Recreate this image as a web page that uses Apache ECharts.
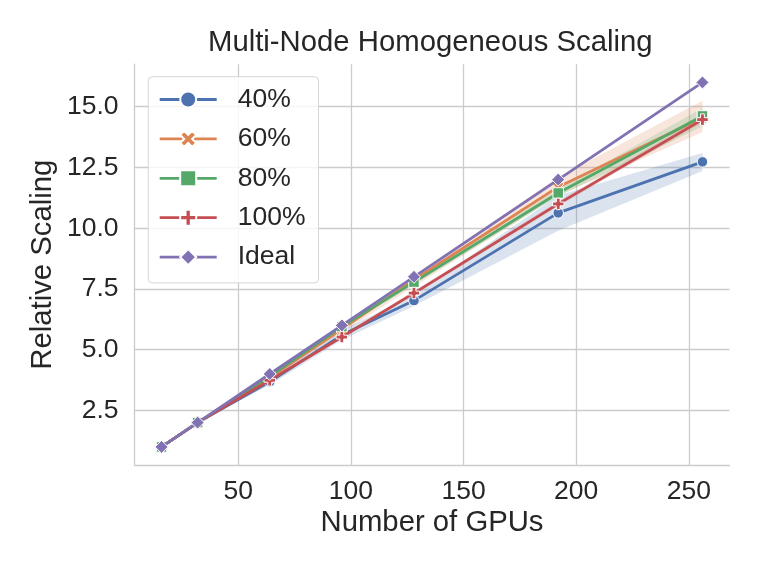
<!DOCTYPE html>
<html>
<head>
    <meta charset="utf-8">
    <title>Multi-Node Homogeneous Scaling</title>
    <script src="https://cdn.jsdelivr.net/npm/echarts@6/dist/echarts.min.js"></script>
    <style>
        html, body { margin: 0; padding: 0; background: #fff; }
    </style>
</head>
<body>
<div id="main" style="width: 761px;height:571px;"></div>
<script>
    // x values
    var gpus = [16, 32, 64, 96, 128, 192, 256];

    // mean relative scaling per run
    var s40 = [1, 2, 3.68, 5.6, 7.02, 10.63, 12.73];
    var s60 = [1, 2, 3.85, 5.85, 7.88, 11.7, 14.55];
    var s80 = [1, 2, 3.9, 5.95, 7.78, 11.45, 14.62];
    var s100 = [1, 2, 3.74, 5.52, 7.33, 11.0, 14.47];
    var ideal = [1, 2, 4, 6, 8, 12, 16];

    // confidence bands (lower / upper)
    var lo40 = [1, 2, 3.55, 5.4, 6.8, 9.9, 12.35];
    var hi40 = [1, 2, 3.82, 5.8, 7.25, 11.35, 13.1];
    var lo60 = [1, 2, 3.75, 5.7, 7.6, 11.35, 13.95];
    var hi60 = [1, 2, 3.95, 6.0, 8.05, 12.1, 15.25];
    var lo80 = [1, 2, 3.82, 5.85, 7.68, 11.3, 14.2];
    var hi80 = [1, 2, 3.97, 6.02, 7.9, 11.6, 14.95];
    var lo100 = [1, 2, 3.7, 5.45, 7.25, 10.9, 14.35];
    var hi100 = [1, 2, 3.8, 5.6, 7.42, 11.1, 14.6];

    var names = ['40%', '60%', '80%', '100%', 'Ideal'];
    var colors = ['#4C72B0', '#DD8452', '#55A868', '#C44E52', '#8172B3'];

    var FONT = 'Liberation Sans, Arial, sans-serif';
    var TXT = '#262626';
    var GRID_C = '#cccccc';

    var xMarker = 'path://M2,-4L4,-2L2,0L4,2L2,4L0,2L-2,4L-4,2L-2,0L-4,-2L-2,-4L0,-2Z';
    var plusMarker = 'path://M-1,-3L1,-3L1,-1L3,-1L3,1L1,1L1,3L-1,3L-1,1L-3,1L-3,-1L-1,-1Z';

    function pairs(ys) {
        return gpus.map(function (x, i) { return [x, ys[i]]; });
    }

    // band drawn as one polygon through the axis scales
    function band(name, lo, hi, color) {
        return {
            type: 'custom',
            name: name,
            xAxisIndex: 0,
            yAxisIndex: 0,
            z: 1,
            silent: true,
            data: gpus.map(function (x, i) { return [x, lo[i], hi[i]]; }),
            encode: { x: 0, y: [1, 2] },
            renderItem: function (params, api) {
                if (params.dataIndex !== 0) return;
                var pts = [];
                for (var i = 0; i < gpus.length; i++) pts.push(api.coord([gpus[i], hi[i]]));
                for (var j = gpus.length - 1; j >= 0; j--) pts.push(api.coord([gpus[j], lo[j]]));
                return {
                    type: 'polygon',
                    shape: { points: pts },
                    style: { fill: color, opacity: 0.2 }
                };
            }
        };
    }

    function line(idx, ys, symbol, size) {
        return {
            type: 'line',
            name: names[idx],
            xAxisIndex: 0,
            yAxisIndex: 0,
            z: 3 + idx,
            data: pairs(ys),
            symbol: symbol,
            symbolSize: size,
            showAllSymbol: true,
            lineStyle: { color: colors[idx], width: 2.8 },
            itemStyle: { color: colors[idx], borderColor: '#fff', borderWidth: 1 },
            emphasis: { disabled: true }
        };
    }

    var myChart = echarts.init(document.getElementById('main'));

    var option = {
        animation: false,
        backgroundColor: '#fff',
        textStyle: { fontFamily: FONT, color: TXT },
        title: {
            text: 'Multi-Node Homogeneous Scaling',
            left: 208,
            top: 28,
            padding: 0,
            textStyle: { fontFamily: FONT, fontSize: 29.3, fontWeight: 'normal', color: TXT }
        },
        legend: {
            data: names,
            orient: 'vertical',
            left: 148.3,
            top: 76.7,
            padding: [9.3, 13, 12.3, 10],
            itemGap: 12.4,
            itemWidth: 57,
            itemHeight: 20,
            lineStyle: { width: 2.8 },
            backgroundColor: 'rgba(255,255,255,0.8)',
            borderColor: '#d6d6d6',
            borderWidth: 1,
            borderRadius: 4,
            textStyle: { fontFamily: FONT, fontSize: 26.5, color: TXT, padding: [0, 0, 0, 16] }
        },
        grid: [
            // data grid
            { left: 134.5, right: 31.5, top: 64.2, bottom: 105.9 },
            // x tick grid (x from 0 to 250)
            { left: 125.5, right: 72.1, top: 64.2, bottom: 105.9 },
            // y tick grid (y from 0 to 15)
            { left: 134.5, right: 31.5, top: 106.7, bottom: 99.8 }
        ],
        xAxis: [
            {
                gridIndex: 0, type: 'value', min: 4, max: 268,
                name: 'Number of GPUs', nameLocation: 'middle', nameGap: 43,
                nameTextStyle: { fontFamily: FONT, fontSize: 29.3, color: TXT },
                axisLine: { onZero: false, lineStyle: { color: GRID_C, width: 1.3 } },
                axisTick: { show: false },
                axisLabel: { show: false },
                splitLine: { show: false }
            },
            {
                gridIndex: 1, type: 'value', min: 0, max: 250, interval: 50,
                axisLine: { show: false },
                axisTick: { show: false },
                axisLabel: { showMinLabel: false, margin: 12.6, fontFamily: FONT, fontSize: 26.5, color: TXT },
                splitLine: { show: true, showMinLine: false, lineStyle: { color: GRID_C, width: 1.3 } }
            },
            { gridIndex: 2, type: 'value', min: 0, max: 1, show: false }
        ],
        yAxis: [
            {
                gridIndex: 0, type: 'value', min: 0.25, max: 16.75,
                name: 'Relative Scaling', nameLocation: 'middle', nameGap: 77,
                nameTextStyle: { fontFamily: FONT, fontSize: 29.3, color: TXT },
                axisLine: { show: true, onZero: false, lineStyle: { color: GRID_C, width: 1.3 } },
                axisTick: { show: false },
                axisLabel: { show: false },
                splitLine: { show: false }
            },
            { gridIndex: 1, type: 'value', min: 0, max: 1, show: false },
            {
                gridIndex: 2, type: 'value', min: 0, max: 15, interval: 2.5,
                axisLine: { show: false },
                axisTick: { show: false },
                axisLabel: {
                    showMinLabel: false, margin: 16, fontFamily: FONT, fontSize: 26.5, color: TXT,
                    formatter: function (v) { return v.toFixed(1); }
                },
                splitLine: { show: true, showMinLine: false, lineStyle: { color: GRID_C, width: 1.3 } }
            }
        ],
        series: [
            band('40% ci', lo40, hi40, colors[0]),
            band('60% ci', lo60, hi60, colors[1]),
            band('80% ci', lo80, hi80, colors[2]),
            band('100% ci', lo100, hi100, colors[3]),
            line(0, s40, 'circle', 10.5),
            line(1, s60, xMarker, 11.5),
            line(2, s80, 'rect', 10.5),
            line(3, s100, plusMarker, 11.5),
            line(4, ideal, 'diamond', 13)
        ]
    };

    myChart.setOption(option);
</script>
</body>
</html>
